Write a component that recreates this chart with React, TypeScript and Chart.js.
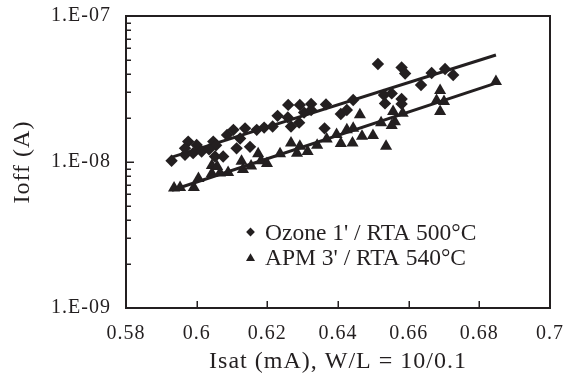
import React, { useEffect, useRef } from 'react';
import { Chart, registerables } from 'chart.js';

Chart.register(...registerables);

const FONT = "'Liberation Serif', 'Times New Roman', serif";
const INK = '#231f20';

// Axis ticks
const xTicks = [0.58, 0.6, 0.62, 0.64, 0.66, 0.68, 0.7];
const xTickLabels = ['0.58', '0.6', '0.62', '0.64', '0.66', '0.68', '0.7'];
const yTicks = [1e-9, 1e-8, 1e-7];
const yTickLabels = ['1.E-09', '1.E-08', '1.E-07'];

// Series labels
const ozoneLabel = "Ozone 1' / RTA 500\u00B0C";
const apmLabel = "APM 3' / RTA 540\u00B0C";

// Ozone 1' / RTA 500°C (diamonds)
const ozoneX = [
  0.5929, 0.5967, 0.5976, 0.5967, 0.6, 0.599, 0.6014, 0.6047, 0.6052, 0.6075,
  0.6086, 0.6104, 0.6123, 0.6113, 0.6137, 0.6151, 0.617, 0.6191, 0.6215, 0.6229,
  0.6259, 0.6258, 0.6267, 0.6292, 0.629, 0.6304, 0.6324, 0.6324, 0.6366, 0.6362,
  0.6408, 0.6425, 0.6443, 0.6513, 0.653, 0.6552, 0.6533, 0.658, 0.658, 0.658,
  0.659, 0.6635, 0.6665, 0.6703, 0.6726, 0.6055, 0.6035,
];
const ozoneY = [
  1.02e-8, 1.12e-8, 1.38e-8, 1.24e-8, 1.31e-8, 1.15e-8, 1.18e-8, 1.38e-8, 1.09e-8, 1.09e-8,
  1.53e-8, 1.66e-8, 1.45e-8, 1.24e-8, 1.7e-8, 1.27e-8, 1.66e-8, 1.72e-8, 1.75e-8, 2.07e-8,
  2.46e-8, 2.02e-8, 1.75e-8, 2.46e-8, 1.86e-8, 2.18e-8, 2.5e-8, 2.27e-8, 2.48e-8, 1.7e-8,
  2.13e-8, 2.27e-8, 2.66e-8, 4.69e-8, 2.88e-8, 2.95e-8, 2.52e-8, 2.7e-8, 2.5e-8, 4.44e-8,
  4.04e-8, 3.37e-8, 4.07e-8, 4.34e-8, 3.94e-8, 1.3e-8, 1.22e-8,
];

// APM 3' / RTA 540°C (triangles)
const apmX = [
  0.5936, 0.5953, 0.5992, 0.6005, 0.6043, 0.6043, 0.6066, 0.6089, 0.6127, 0.6131,
  0.6154, 0.6174, 0.6182, 0.6199, 0.6236, 0.6267, 0.6292, 0.6284, 0.6314, 0.6341,
  0.6368, 0.6396, 0.6408, 0.6425, 0.6443, 0.6441, 0.6462, 0.6468, 0.6499, 0.6522,
  0.6536, 0.6556, 0.6561, 0.6552, 0.6583, 0.6689, 0.6679, 0.67, 0.6689, 0.6847,
  0.6058,
];
const apmY = [
  6.64e-9, 6.69e-9, 6.69e-9, 7.71e-9, 9.46e-9, 8.34e-9, 8.41e-9, 8.48e-9, 1.01e-8, 8.88e-9,
  9.39e-9, 1.14e-8, 1.02e-8, 9.77e-9, 1.14e-8, 1.35e-8, 1.28e-8, 1.15e-8, 1.18e-8, 1.3e-8,
  1.44e-8, 1.54e-8, 1.34e-8, 1.66e-8, 1.7e-8, 1.35e-8, 2.11e-8, 1.5e-8, 1.52e-8, 1.86e-8,
  1.28e-8, 2.22e-8, 1.89e-8, 1.78e-8, 2.16e-8, 3.09e-8, 2.64e-8, 2.6e-8, 2.22e-8, 3.56e-8,
  9.31e-9,
];

// Exponential trend lines (end points)
const trendX = [0.593, 0.6847];
const ozoneTrendY = [1.08e-8, 5.41e-8];
const apmTrendY = [6.4e-9, 3.47e-8];

const toPoints = (xs: number[], ys: number[]) => xs.map((x, i) => ({ x, y: ys[i] }));

function marker(ctx: CanvasRenderingContext2D, style: string, x: number, y: number, r: number) {
  ctx.beginPath();
  if (style === 'triangle') {
    for (let k = 0; k < 3; k++) {
      const a = (k * 2 * Math.PI) / 3;
      const px = x + Math.sin(a) * r;
      const py = y - Math.cos(a) * r;
      if (k === 0) ctx.moveTo(px, py);
      else ctx.lineTo(px, py);
    }
  } else {
    ctx.moveTo(x - r, y);
    ctx.lineTo(x, y - r);
    ctx.lineTo(x + r, y);
    ctx.lineTo(x, y + r);
  }
  ctx.closePath();
  ctx.fill();
}

export default function App() {
  const ref = useRef<HTMLCanvasElement>(null);

  useEffect(() => {
    const canvas = ref.current;
    if (!canvas) return;

    const framePlugin = {
      id: 'frame',
      beforeDraw(chart: any) {
        (chart.ctx as any).letterSpacing = '1px';
      },
      afterDraw(chart: any) {
        const { ctx, chartArea: a, scales } = chart;
        ctx.save();
        (ctx as any).letterSpacing = '0px';
        ctx.strokeStyle = INK;
        ctx.fillStyle = INK;
        ctx.lineWidth = 2;
        ctx.beginPath();
        ctx.moveTo(a.left - 1, a.top);
        ctx.lineTo(a.right, a.top);
        ctx.lineTo(a.right, a.bottom + 1);
        ctx.stroke();

        const seg = (x1: number, y1: number, x2: number, y2: number) => {
          ctx.beginPath();
          ctx.moveTo(x1, y1);
          ctx.lineTo(x2, y2);
          ctx.stroke();
        };
        ctx.lineWidth = 1.5;
        const ys = scales.y;
        for (let d = 0; d < yTicks.length; d++) {
          const p = Math.round(ys.getPixelForValue(yTicks[d])) + 0.25;
          seg(a.left, p, a.left + 8, p);
          if (d < yTicks.length - 1) {
            for (let m = 2; m < 10; m++) {
              const q = Math.round(ys.getPixelForValue(yTicks[d] * m)) + 0.25;
              seg(a.left, q, a.left + 5, q);
            }
          }
        }
        const xs = scales.x;
        for (let i = 1; i < xTicks.length - 1; i++) {
          const p = Math.round(xs.getPixelForValue(xTicks[i])) + 0.25;
          seg(p, a.bottom, p, a.bottom - 7);
        }

        // in-plot legend
        const rows = [
          { ds: chart.data.datasets[0], r: 4.4, dy: 0 },
          { ds: chart.data.datasets[1], r: 5.2, dy: 1.5 },
        ];
        ctx.font = `23.5px ${FONT}`;
        ctx.textBaseline = 'alphabetic';
        ctx.textAlign = 'left';
        rows.forEach((row, i) => {
          const baseY = a.top + 224 + i * 25;
          marker(ctx, row.ds.pointStyle, a.left + 124.5, baseY - 8 + row.dy, row.r);
          ctx.fillText(row.ds.label, a.left + 139, baseY);
        });
        ctx.restore();
      },
    };

    const chart = new Chart(canvas, {
      type: 'scatter',
      data: {
        datasets: [
          {
            label: ozoneLabel,
            data: toPoints(ozoneX, ozoneY),
            pointStyle: 'rectRot',
            pointRadius: 6.2,
            pointBackgroundColor: INK,
            pointBorderWidth: 0,
            borderColor: INK,
            backgroundColor: INK,
          },
          {
            label: apmLabel,
            data: toPoints(apmX, apmY),
            pointStyle: 'triangle',
            pointRadius: 7,
            pointBackgroundColor: INK,
            pointBorderWidth: 0,
            borderColor: INK,
            backgroundColor: INK,
          },
          {
            label: 'ozone trend',
            data: toPoints(trendX, ozoneTrendY),
            showLine: true,
            pointRadius: 0,
            borderColor: INK,
            borderWidth: 3,
          },
          {
            label: 'apm trend',
            data: toPoints(trendX, apmTrendY),
            showLine: true,
            pointRadius: 0,
            borderColor: INK,
            borderWidth: 3,
          },
        ],
      } as any,
      options: {
        responsive: false,
        animation: false,
        events: [],
        layout: { padding: { top: 16, right: 16, left: 0, bottom: 0 } },
        plugins: {
          legend: { display: false },
          tooltip: { enabled: false },
        },
        scales: {
          x: {
            type: 'linear',
            min: 0.58,
            max: 0.7,
            afterBuildTicks: (s: any) => {
              s.ticks = xTicks.map((v) => ({ value: v }));
            },
            afterFit: (s: any) => {
              s.height = 78;
            },
            grid: { display: false, drawTicks: true, tickLength: 14 },
            border: { display: true, color: INK, width: 2 },
            ticks: {
              autoSkip: false,
              maxRotation: 0,
              padding: 0,
              color: INK,
              font: { family: FONT, size: 20 },
              callback: (_v: any, i: number) => xTickLabels[i],
            },
            title: {
              display: true,
              text: 'Isat (mA), W/L = 10/0.1',
              color: INK,
              font: { family: FONT, size: 24 },
              padding: { top: 0, bottom: 10 },
            },
          },
          y: {
            type: 'logarithmic',
            min: 1e-9,
            max: 1e-7,
            afterBuildTicks: (s: any) => {
              s.ticks = yTicks.map((v) => ({ value: v, major: true }));
            },
            afterFit: (s: any) => {
              s.width = 126;
            },
            grid: { display: false, drawTicks: true, tickLength: 15 },
            border: { display: true, color: INK, width: 2 },
            ticks: {
              autoSkip: false,
              padding: 0,
              color: INK,
              font: { family: FONT, size: 20 },
              callback: (_v: any, i: number) => yTickLabels[i],
            },
            title: {
              display: true,
              text: 'Ioff (A)',
              color: INK,
              font: { family: FONT, size: 24 },
              padding: { top: 8, bottom: 0 },
            },
          },
        },
      } as any,
      plugins: [framePlugin],
    });

    return () => chart.destroy();
  }, []);

  return (
    <div style={{ position: 'absolute', left: 0, top: 0, width: 566, height: 386, background: '#fff' }}>
      <canvas ref={ref} width={566} height={386} style={{ display: 'block' }} />
    </div>
  );
}
